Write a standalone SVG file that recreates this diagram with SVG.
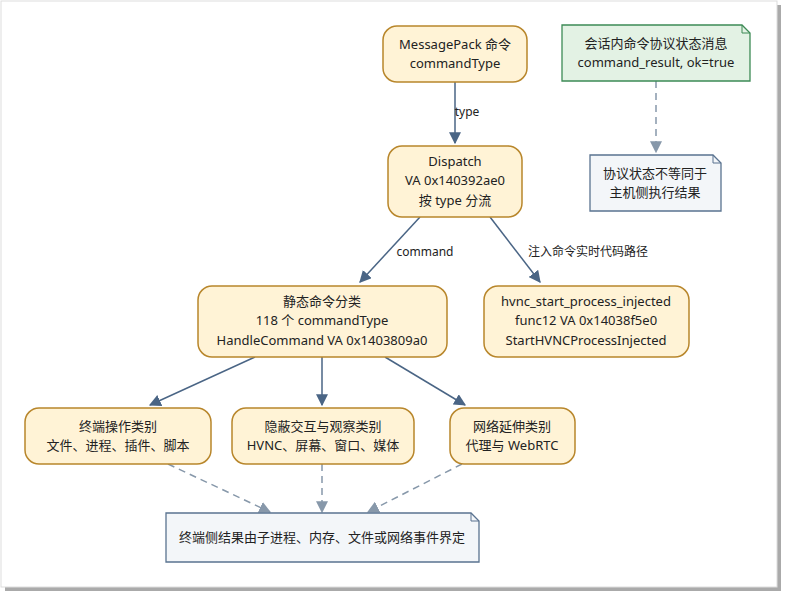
<svg xmlns="http://www.w3.org/2000/svg" width="786" height="596" viewBox="0 0 786 596">
<style>
text{font-family:"Noto Sans","Noto Sans CJK SC",sans-serif;font-size:13px;fill:#222;text-anchor:middle}
.n{fill:#fff3d6;stroke:#b8862b;stroke-width:1.5}
.e{stroke:#4a6585;stroke-width:1.5;fill:none}
.d{stroke:#8798aa;stroke-width:1.5;fill:none;stroke-dasharray:7,5}
.lb{font-size:12px}
</style>
<defs>
<marker id="a" viewBox="0 0 10 10" refX="9" refY="5" markerWidth="8" markerHeight="8" orient="auto"><path d="M0,0L10,5L0,10z" fill="#4a6585"/></marker>
<marker id="b" viewBox="0 0 10 10" refX="9" refY="5" markerWidth="8" markerHeight="8" orient="auto"><path d="M0,0L10,5L0,10z" fill="#8798aa"/></marker>
</defs>
<rect x="5" y="5" width="776" height="586" fill="#aaa"/>
<rect x="1" y="1" width="776" height="586" fill="#fff" stroke="#ddd"/>
<g id="connectors">
<path class="e" d="M455,82V143" marker-end="url(#a)"/><text class="lb" x="467" y="116">type</text>
<path class="e" d="M420,217L360,282" marker-end="url(#a)"/><text class="lb" x="425" y="256">command</text>
<path class="e" d="M490,217L540,282" marker-end="url(#a)"/><text class="lb" x="588" y="256">注入命令实时代码路径</text>
<path class="e" d="M255,357L150,405" marker-end="url(#a)"/>
<path class="e" d="M322,357V405" marker-end="url(#a)"/>
<path class="e" d="M385,357L465,405" marker-end="url(#a)"/>
<path class="d" d="M168,464L270,512" marker-end="url(#b)"/>
<path class="d" d="M322,464V512" marker-end="url(#b)"/>
<path class="d" d="M462,464L368,512" marker-end="url(#b)"/>
<path class="d" d="M656,81V152" marker-end="url(#b)"/>
</g>
<g id="msgpack"><rect class="n" x="383" y="26" width="144" height="56" rx="14"/><text x="455" y="49">MessagePack 命令</text><text x="455" y="68">commandType</text></g>
<g id="dispatch"><rect class="n" x="388" y="146" width="134" height="71" rx="14"/><text x="455" y="166">Dispatch</text><text x="455" y="185">VA 0x140392ae0</text><text x="455" y="205">按 type 分流</text></g>
<g id="note1"><path d="M562,25H742L750,33V81H562Z" fill="#e3f2e4" stroke="#3d8a55" stroke-width="1.3"/><path d="M742,25V33H750" fill="none" stroke="#3d8a55"/><text x="656" y="48">会话内命令协议状态消息</text><text x="656" y="67">command_result, ok=true</text></g>
<g id="note2"><path d="M590,155H713L721,163V211H590Z" fill="#f3f6f9" stroke="#5a7390" stroke-width="1.3"/><path d="M713,155V163H721" fill="none" stroke="#5a7390"/><text x="655" y="178">协议状态不等同于</text><text x="655" y="197">主机侧执行结果</text></g>
<g id="static"><rect class="n" x="198" y="286" width="249" height="71" rx="14"/><text x="322" y="306">静态命令分类</text><text x="322" y="325">118 个 commandType</text><text x="322" y="345">HandleCommand VA 0x1403809a0</text></g>
<g id="hvnc"><rect class="n" x="484" y="286" width="205" height="71" rx="14"/><text x="586" y="306">hvnc_start_process_injected</text><text x="586" y="325">func12 VA 0x14038f5e0</text><text x="586" y="345">StartHVNCProcessInjected</text></g>
<g id="term"><rect class="n" x="25" y="408" width="186" height="56" rx="14"/><text x="118" y="431">终端操作类别</text><text x="118" y="450">文件、进程、插件、脚本</text></g>
<g id="hidden"><rect class="n" x="232" y="408" width="182" height="56" rx="14"/><text x="323" y="431">隐蔽交互与观察类别</text><text x="323" y="450">HVNC、屏幕、窗口、媒体</text></g>
<g id="net"><rect class="n" x="450" y="408" width="125" height="56" rx="14"/><text x="512" y="431">网络延伸类别</text><text x="512" y="450">代理与 WebRTC</text></g>
<g id="note3"><path d="M166,513H471L479,521V562H166Z" fill="#f3f6f9" stroke="#5a7390" stroke-width="1.3"/><path d="M471,513V521H479" fill="none" stroke="#5a7390"/><text x="322" y="542">终端侧结果由子进程、内存、文件或网络事件界定</text></g>
</svg>
